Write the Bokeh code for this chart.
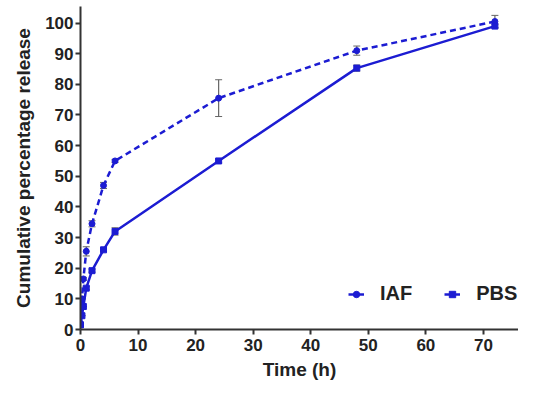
from bokeh.plotting import figure
from bokeh.models import ColumnDataSource, Whisker, Range1d, FixedTicker, Legend, LegendItem
from bokeh.embed import file_html
from bokeh.resources import INLINE

time_h = [0, 0.25, 0.5, 1, 2, 4, 6, 24, 48, 72]
iaf = [2, 10, 16.5, 25.5, 34.5, 47, 55, 75.5, 91, 100.5]
iaf_err = [0, 0, 0.5, 1.5, 1, 1, 0.5, 6, 1.5, 2]
pbs = [1.5, 4.5, 7.5, 13.5, 19.2, 26, 32, 55, 85.3, 99]
pbs_err = [0, 0, 0, 0.5, 0.5, 0.5, 1.2, 0.6, 1, 0.6]
x_ticks = [0, 10, 20, 30, 40, 50, 60, 70]
y_ticks = [0, 10, 20, 30, 40, 50, 60, 70, 80, 90, 100]

BLUE = "#1c1cd2"
FONT = "Liberation Sans"

p = figure(width=518, height=384, output_backend="svg", toolbar_location=None,
           x_range=Range1d(0, 76.1), y_range=Range1d(0, 105.4),
           min_border_left=80, min_border_right=0, min_border_top=6, min_border_bottom=55)
p.outline_line_color = None
p.grid.visible = False

src_i = ColumnDataSource(dict(x=time_h, y=iaf,
                              lo=[v - e for v, e in zip(iaf, iaf_err)],
                              hi=[v + e for v, e in zip(iaf, iaf_err)]))
src_p = ColumnDataSource(dict(x=time_h, y=pbs,
                              lo=[v - e for v, e in zip(pbs, pbs_err)],
                              hi=[v + e for v, e in zip(pbs, pbs_err)]))

for s in (src_i, src_p):
    w = Whisker(source=s, base="x", lower="lo", upper="hi", line_color="#666666",
                line_width=1.2)
    w.upper_head.size = 7
    w.lower_head.size = 7
    w.upper_head.line_color = "#666666"
    w.lower_head.line_color = "#666666"
    p.add_layout(w)

l1 = p.line("x", "y", source=src_i, line_color=BLUE, line_width=2.5, line_dash="6 4")
m1 = p.scatter("x", "y", source=src_i, marker="circle", size=6, color=BLUE)
l2 = p.line("x", "y", source=src_p, line_color=BLUE, line_width=2.5)
m2 = p.scatter("x", "y", source=src_p, marker="square", size=6, color=BLUE)

legend = Legend(items=[LegendItem(label="IAF", renderers=[l2, m1]),
                       LegendItem(label="PBS", renderers=[l2, m2])],
                orientation="horizontal", location=(268, 24), padding=2,
                border_line_color=None, background_fill_alpha=0,
                label_text_font=FONT, label_text_font_style="bold",
                label_text_font_size="20px", label_text_color="#222222",
                glyph_width=16, spacing=32, label_standoff=16)
p.add_layout(legend, "center")

for ax in (p.xaxis, p.yaxis):
    ax.axis_line_width = 2
    ax.axis_line_color = "#333333"
    ax.major_tick_line_width = 2
    ax.major_tick_line_color = "#333333"
    ax.major_tick_out = 5
    ax.major_tick_in = 0
    ax.minor_tick_line_color = None
    ax.major_label_text_font = FONT
    ax.major_label_text_font_style = "bold"
    ax.major_label_text_font_size = "17px"
    ax.major_label_text_color = "#222222"
    ax.axis_label_text_font = FONT
    ax.axis_label_text_font_style = "bold"
    ax.axis_label_text_font_size = "19px"
    ax.axis_label_text_color = "#222222"

p.xaxis.ticker = FixedTicker(ticks=x_ticks)
p.yaxis.ticker = FixedTicker(ticks=y_ticks)
p.xaxis.axis_label = "Time (h)"
p.yaxis.axis_label = "Cumulative percentage release"
p.xaxis.major_label_standoff = 4
p.yaxis.major_label_standoff = 2
p.xaxis.axis_label_standoff = 5
p.yaxis.axis_label_standoff = 8

open("out.html", "w").write(file_html(p, INLINE))
